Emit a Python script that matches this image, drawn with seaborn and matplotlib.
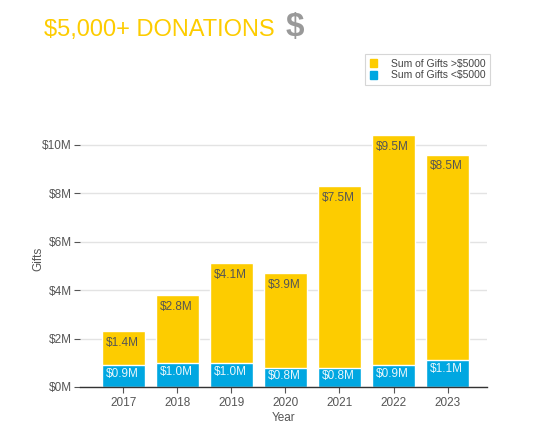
import pandas as pd
import numpy as np
import matplotlib.pyplot as plt
import seaborn as sns

# Data (millions of dollars)
years = ['2017', '2018', '2019', '2020', '2021', '2022', '2023']
gifts_over_5000 = [1.4, 2.8, 4.1, 3.9, 7.5, 9.5, 8.5]
gifts_under_5000 = [0.9, 1.0, 1.0, 0.8, 0.8, 0.9, 1.1]
y_ticks = [0, 2, 4, 6, 8, 10]

yellow = '#FDCC00'
blue = '#00A7E1'

df = pd.DataFrame({'Year': years, 'Over': gifts_over_5000, 'Under': gifts_under_5000})
df['Total'] = df['Over'] + df['Under']

sns.set_theme(style='white')
plt.rcParams['font.family'] = ['Liberation Sans', 'DejaVu Sans']

fig = plt.figure(figsize=(5.34, 4.3), dpi=100)
ax = fig.add_axes([0.15, 0.1, 0.762, 0.597])

# Stacked bars: total in yellow, lower part in blue on top of it
sns.barplot(data=df, x='Year', y='Total', color=yellow, width=0.8, saturation=1, ax=ax)
sns.barplot(data=df, x='Year', y='Under', color=blue, width=0.8, saturation=1, ax=ax)

# Segment labels, top-left inside each segment
for bar, val in zip(ax.containers[0], df['Over']):
    ax.annotate(f'${val:.1f}M', (bar.get_x(), bar.get_height()), xytext=(3, -4),
                textcoords='offset points', ha='left', va='top', fontsize=8.5, color='#555555')
for bar, val in zip(ax.containers[1], df['Under']):
    ax.annotate(f'${val:.1f}M', (bar.get_x(), bar.get_height()), xytext=(3, -2),
                textcoords='offset points', ha='left', va='top', fontsize=8.5, color='#e8f6fc')

ax.set_xlim(-0.8, 6.73)
ax.set_ylim(0, 10.6)
ax.set_yticks(y_ticks)
ax.set_yticklabels([f'${t}M' for t in y_ticks])
ax.yaxis.grid(True, color='#e3e3e3', lw=1)
ax.set_axisbelow(True)

for s in ['top', 'right', 'left']:
    ax.spines[s].set_visible(False)
ax.spines['bottom'].set_color('#333333')
ax.spines['bottom'].set_linewidth(1)
ax.tick_params(axis='both', labelsize=8.5, labelcolor='#555555', color='#555555',
               length=4, width=0.8, bottom=True, left=True)
ax.tick_params(axis='y', pad=2)

ax.set_xlabel('Year', fontsize=8.5, color='#555555', labelpad=2)
ax.set_ylabel('Gifts', fontsize=8.5, color='#555555', labelpad=-1.5)

# Legend
leg = fig.legend(handles=[plt.Rectangle((0, 0), 1, 1, color=yellow),
                          plt.Rectangle((0, 0), 1, 1, color=blue)],
                 labels=['Sum of Gifts >$5000', 'Sum of Gifts <$5000'],
                 loc='upper right', bbox_to_anchor=(0.918, 0.874), borderaxespad=0,
                 fontsize=7.5, handlelength=0.75, handleheight=0.75, handletextpad=1.3,
                 labelspacing=0.15, frameon=True, fancybox=False, borderpad=0.45,
                 labelcolor='#444444')
leg.get_frame().set_edgecolor('#cccccc')
leg.get_frame().set_linewidth(0.8)

# Title
fig.text(0.083, 0.93, '$5,000+ DONATIONS', fontsize=17, color=yellow, ha='left', va='center')
fig.text(0.535, 0.935, '$', fontsize=24, color='#999999', fontweight='bold', ha='left', va='center')

plt.savefig('out.png', dpi=100)
